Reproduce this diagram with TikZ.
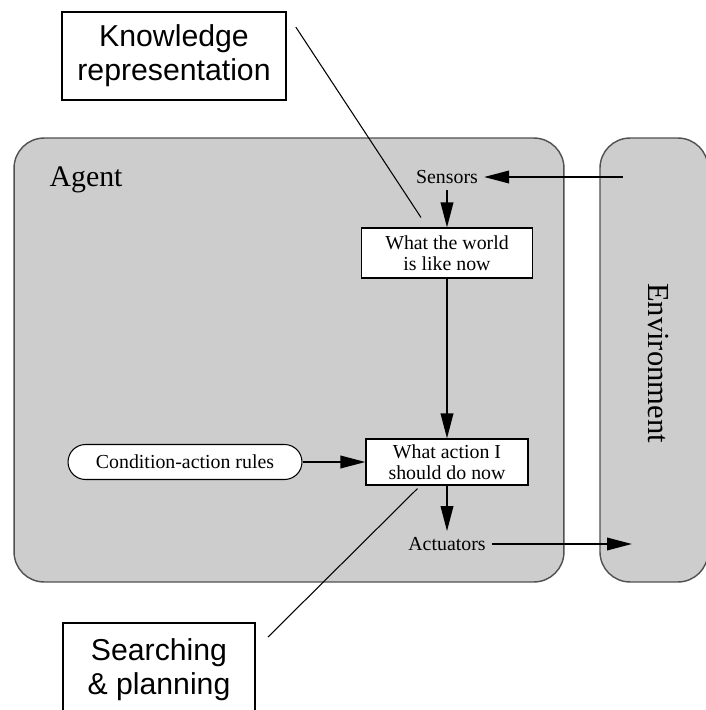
\documentclass[tikz,border=0pt]{standalone}
\usepackage{fontspec}
\setmainfont{Liberation Serif}
\newfontfamily\calloutfont{Liberation Sans}
\usetikzlibrary{arrows.meta,positioning}
\definecolor{panelgray}{RGB}{205,205,205}
\definecolor{paneledge}{RGB}{80,80,80}

\begin{document}
\begin{tikzpicture}[
    x=0.02cm, y=-0.02cm,
    panel/.style={draw=paneledge, fill=panelgray, line width=0.8pt, rounded corners=0.6cm},
    unit/.style={draw, fill=white, line width=0.6pt, align=center, inner sep=0pt, font=\fontsize{11.3}{12}\selectfont},
    plain/.style={font=\fontsize{11.3}{12}\selectfont},
    callout/.style={draw, fill=white, line width=1pt, align=center, inner sep=0pt, font=\calloutfont\fontsize{17.2}{19.2}\selectfont},
    link/.style={-{Triangle[length=5mm, width=2.5mm]}, line width=1.1pt},
    leader/.style={line width=0.6pt}
]
\useasboundingbox (0,0) rectangle (706,710);
% agent and environment panels
\node[panel, minimum width=11cm, minimum height=8.88cm] (agent) at (289,360) {};
\node[panel, minimum width=2.16cm, minimum height=8.88cm] (env) at (654,360) {};
\node[font=\fontsize{17}{20}\selectfont] (agentlbl) at (86,180) {Agent};
\node[rotate=-90, font=\fontsize{17.4}{20}\selectfont] (envlbl) at (658,363) {Environment};
% parts of the agent
\node[plain] (sensors) at (447,177) {Sensors};
\node[unit, minimum width=3.42cm, minimum height=1cm] (world) at (447,253) {What the world\\is like now};
\node[unit, minimum width=3.24cm, minimum height=0.92cm] (action) at (447,462) {What action I\\should do now};
\node[unit, rounded corners=0.35cm, minimum width=4.68cm, minimum height=0.7cm] (rules) at (185,462) {Condition-action rules};
\node[plain] (actuators) at (447,544) {Actuators};
\coordinate (percept) at (623,177);
\coordinate (effect) at (632,544);
% callouts
\node[callout, minimum width=4.48cm, minimum height=1.76cm] (knowrep) at (174,56) {Knowledge\\representation};
\node[callout, minimum width=3.84cm, minimum height=1.86cm] (search) at (159,669.5) {Searching\\\& planning};
% connections
\draw[link] (percept) -- (sensors.east);
\draw[link] (sensors.south) -- (world.north);
\draw[link] (world.south) -- (action.north);
\draw[link] (rules.east) -- (action.west);
\draw[link] (action.south) -- (actuators.north);
\draw[link] (actuators.east) -- (effect);
\draw[leader] ([shift={(9,16)}]knowrep.north east) -- ([shift={(60,-10)}]world.north west);
\draw[leader] ([shift={(12,15)}]search.north east) -- ([shift={(52,3)}]action.south west);
\end{tikzpicture}
\end{document}
